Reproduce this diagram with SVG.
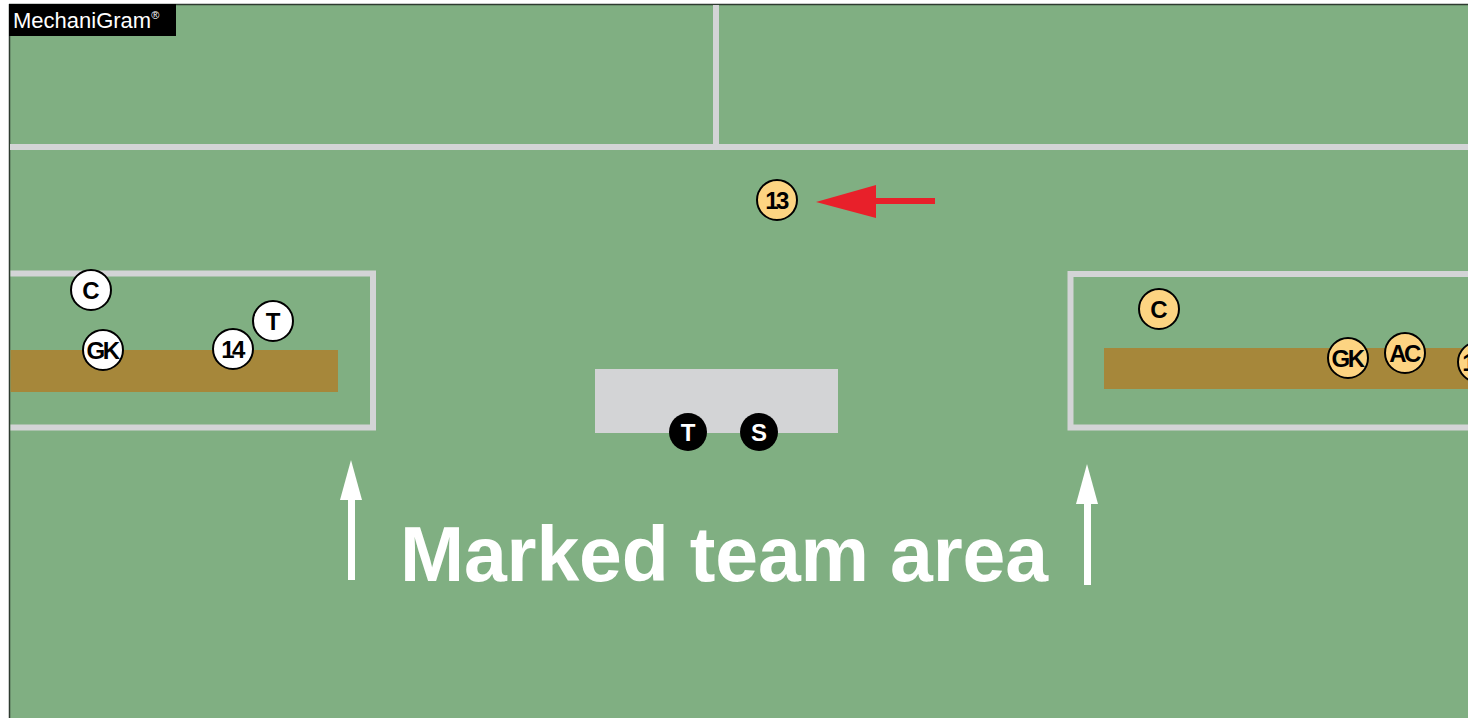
<svg xmlns="http://www.w3.org/2000/svg" width="1468" height="718" viewBox="0 0 1468 718">
<style>
.line{fill:none;stroke:#D3D4D6;stroke-width:6}
.bench{fill:#A6873A}
.wp circle{fill:#FFFFFF;stroke:#000;stroke-width:2}
.yp circle{fill:#FDD482;stroke:#000;stroke-width:2}
.bp circle{fill:#000}
.lbl{font-family:"Liberation Sans",Arial,sans-serif;font-weight:bold;font-size:24px;text-anchor:middle}
.wp text,.yp text{fill:#000}
.bp text{fill:#FFF}
.nar{letter-spacing:-2.5px}
</style>
<rect x="0" y="0" width="1468" height="718" fill="#FFFFFF"/>
<rect x="9" y="4" width="1459" height="714" fill="#80AF82"/>
<line x1="9" y1="4.5" x2="1468" y2="4.5" stroke="#2E3B30" stroke-width="1.5"/>
<line x1="9.5" y1="4" x2="9.5" y2="718" stroke="#2E3B30" stroke-width="1.5"/>
<g id="field-lines">
<line class="line" x1="716" y1="5" x2="716" y2="147"/>
<line class="line" x1="10" y1="147" x2="1468" y2="147"/>
</g>
<g id="left-team-area">
<path class="line" d="M10.5,273.5 H373 V427.5 H10.5"/>
<rect class="bench" x="10.5" y="350" width="327.5" height="42"/>
</g>
<g id="right-team-area">
<path class="line" d="M1468,274 H1070.5 V427.5 H1468"/>
<rect class="bench" x="1104" y="348" width="364" height="41"/>
</g>
<g id="table"><rect x="595" y="369" width="243" height="64" fill="#D3D4D6"/></g>
<g id="logo">
<rect x="9" y="4" width="167" height="32" fill="#000"/>
<text x="13" y="28" font-family="Liberation Sans,Arial,sans-serif" font-size="22" fill="#FFF">MechaniGram<tspan font-size="11" dy="-9">®</tspan></text>
</g>
<g id="connectors">
<line x1="935" y1="201" x2="868" y2="201" stroke="#E8202A" stroke-width="6"/>
<polygon points="816,202 876,185 876,218" fill="#E8202A"/>
<rect x="348" y="498" width="7" height="82" fill="#FFF"/>
<polygon points="351,460 340,500 362,500" fill="#FFF"/>
<rect x="1084" y="501" width="7" height="84" fill="#FFF"/>
<polygon points="1087,464 1076,504 1098,504" fill="#FFF"/>
</g>
<g id="p-left-c" class="wp"><circle cx="91" cy="290" r="20"/><text class="lbl" x="91" y="299">C</text></g>
<g id="p-left-gk" class="wp"><circle cx="103" cy="350" r="20"/><text class="lbl nar" x="102" y="359">GK</text></g>
<g id="p-left-14" class="wp"><circle cx="233" cy="349" r="20"/><text class="lbl nar" x="232" y="358">14</text></g>
<g id="p-left-t" class="wp"><circle cx="273" cy="321" r="20"/><text class="lbl" x="273" y="330">T</text></g>
<g id="p-13" class="yp"><circle cx="777" cy="200" r="20"/><text class="lbl nar" x="776" y="209">13</text></g>
<g id="p-right-c" class="yp"><circle cx="1159" cy="309" r="20"/><text class="lbl" x="1159" y="318">C</text></g>
<g id="p-right-gk" class="yp"><circle cx="1348" cy="358" r="20"/><text class="lbl nar" x="1347" y="367">GK</text></g>
<g id="p-right-ac" class="yp"><circle cx="1405" cy="353" r="20"/><text class="lbl nar" x="1404" y="362">AC</text></g>
<g id="p-right-edge" class="yp"><circle cx="1478" cy="362" r="20"/><text class="lbl" x="1469" y="371">1</text></g>
<g id="o-t" class="bp"><circle cx="688" cy="432" r="19"/><text class="lbl" x="688" y="441">T</text></g>
<g id="o-s" class="bp"><circle cx="759" cy="432" r="19"/><text class="lbl" x="759" y="441">S</text></g>
<text x="400" y="581" font-family="Liberation Sans,Arial,sans-serif" font-weight="bold" font-size="77" fill="#FFF" textLength="648">Marked team area</text>
</svg>
